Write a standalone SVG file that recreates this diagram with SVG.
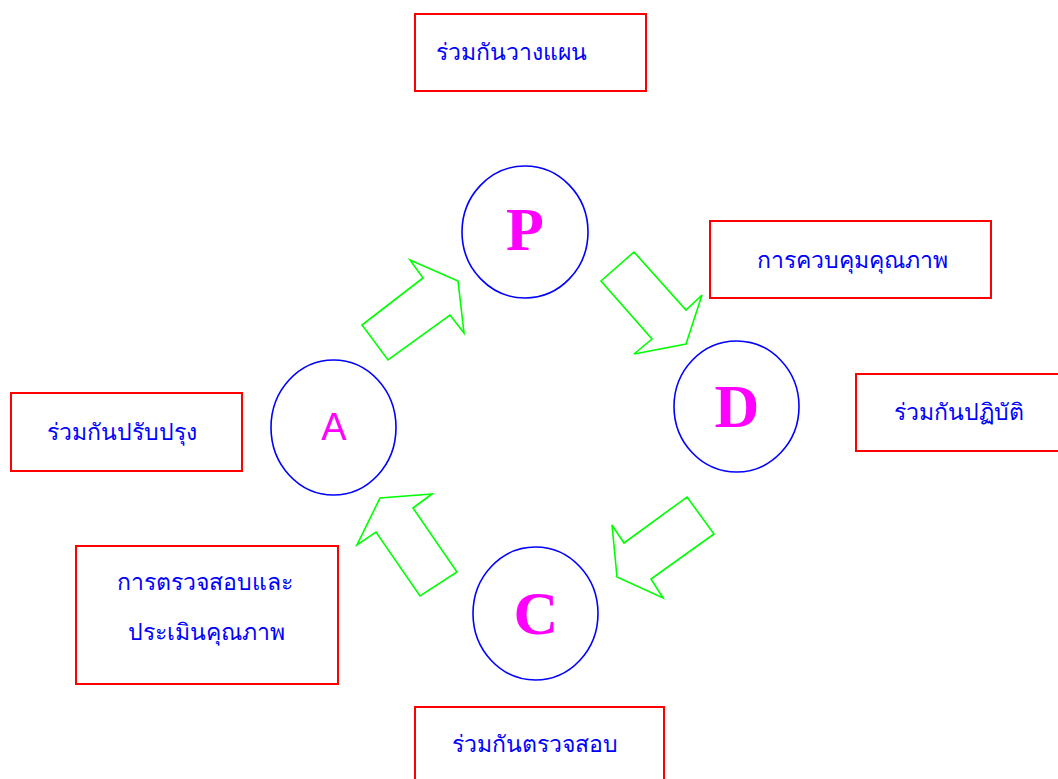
<svg xmlns="http://www.w3.org/2000/svg" width="1058" height="779" viewBox="0 0 1058 779">
<style>
.box{fill:#fff;stroke:#ff0000;stroke-width:2}
.lbl{fill:#0000ff;font-family:"Liberation Serif",serif;font-size:23px}
.circ{fill:#fff;stroke:#0000ff;stroke-width:1.6}
.big{fill:#ff00ff;font-family:"Liberation Serif",serif;font-weight:bold;font-size:62px;text-anchor:middle}
.arr{fill:#fff;stroke:#00ff00;stroke-width:1.6;stroke-linejoin:miter}
</style>
<rect width="1058" height="779" fill="#fff"/>
<g id="connectors">
<polygon class="arr" points="410,260 458,281 464,333 450,315 388,360 362,325 423,278"/>
<polygon class="arr" points="634,252 686,310 702,295 686,344 634,354 652,339 601,281"/>
<polygon class="arr" points="687,497 714,534 651,579 663,598 617,577 612,525 624,543"/>
<polygon class="arr" points="432,494 413,508 457,572 420,596 376,532 357,545 380,498"/>
</g>
<g id="plan-label"><rect class="box" x="415" y="14" width="231" height="77"/><text class="lbl" x="436" y="60">ร่วมกันวางแผน</text></g>
<g id="control-label"><rect class="box" x="710" y="221" width="281" height="77"/><text class="lbl" x="757" y="268">การควบคุมคุณภาพ</text></g>
<g id="do-label"><rect class="box" x="856" y="374" width="210" height="77"/><text class="lbl" x="894" y="420">ร่วมกันปฏิบัติ</text></g>
<g id="act-label"><rect class="box" x="11" y="393" width="231" height="78"/><text class="lbl" x="47" y="440">ร่วมกันปรับปรุง</text></g>
<g id="eval-label"><rect class="box" x="76" y="546" width="262" height="138"/><text class="lbl" x="117" y="590">การตรวจสอบและ</text><text class="lbl" x="128" y="640">ประเมินคุณภาพ</text></g>
<g id="check-label"><rect class="box" x="415" y="707" width="249" height="80"/><text class="lbl" x="452" y="752">ร่วมกันตรวจสอบ</text></g>
<g id="P"><ellipse class="circ" cx="525" cy="232" rx="63" ry="66"/><text class="big" x="525" y="250">P</text></g>
<g id="D"><ellipse class="circ" cx="736.5" cy="406.5" rx="62.5" ry="65.5"/><text class="big" x="737" y="427">D</text></g>
<g id="C"><ellipse class="circ" cx="535.5" cy="613.5" rx="62.5" ry="66.5"/><text class="big" x="536" y="634">C</text></g>
<g id="A"><ellipse class="circ" cx="333.5" cy="427.5" rx="62.5" ry="67.5"/><text x="334" y="440" fill="#ff00ff" font-family="'Liberation Sans',sans-serif" font-size="38" text-anchor="middle">A</text></g>
</svg>
